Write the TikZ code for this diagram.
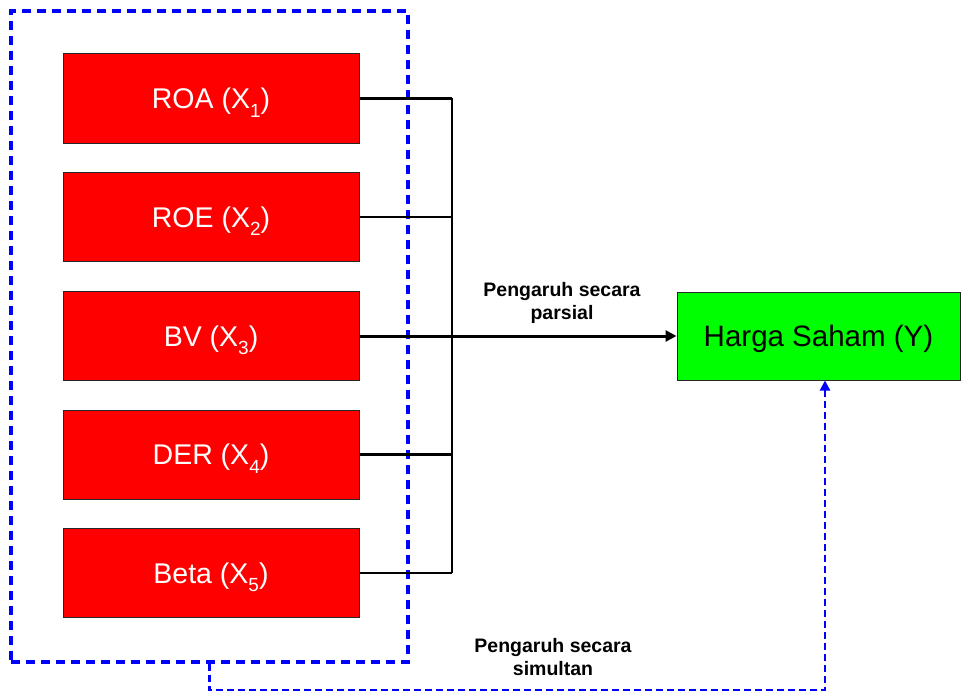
\documentclass[tikz,border=0pt]{standalone}
\usepackage{fontspec}
\setmainfont{Liberation Sans}
\usetikzlibrary{arrows.meta}
% subscript index set in a smaller size
\newcommand{\idx}[1]{\smash{\raisebox{-0.3em}{\fontsize{19}{19}\selectfont #1}}}
\begin{document}
\begin{tikzpicture}[x=1pt,y=-1pt,
  varbox/.style={draw=black!85, line width=1pt, fill=red, text=white,
    minimum width=296pt, minimum height=89pt, inner sep=0pt,
    text height=20.4pt, text depth=0pt,
    font=\fontsize{28.5}{34}\selectfont},
  targetbox/.style={draw=black!85, line width=1pt, fill=green,
    minimum width=283pt, minimum height=88pt, inner sep=0pt,
    text height=21.1pt, text depth=0pt,
    font=\fontsize{29.5}{34}\selectfont},
  groupbox/.style={draw=blue, line width=3.2pt, dash pattern=on 9pt off 6pt,
    minimum width=397pt, minimum height=651pt, inner sep=0pt},
  link/.style={draw=black, line width=2.6pt},
  partial/.style={draw=black, line width=3pt, -{Triangle[length=11pt,width=11pt]}},
  simult/.style={draw=blue, line width=2.2pt, dash pattern=on 7pt off 4pt,
    -{Triangle[length=10pt,width=10pt]}},
  caption/.style={font=\fontsize{19.5}{23}\selectfont\bfseries, align=center, inner sep=0pt}
]
\useasboundingbox (0,0) rectangle (962,693);

% dashed frame round the independent variables
\node[groupbox] (grp) at (209.5,336.5) {};

% independent variables
\node[varbox] (x1) at (211,98.5) {ROA (X\idx{1})};
\node[varbox] (x2) at (211,217) {ROE (X\idx{2})};
\node[varbox] (x3) at (211,336) {BV (X\idx{3})};
\node[varbox] (x4) at (211,454.5) {DER (X\idx{4})};
\node[varbox] (x5) at (211,573) {Beta (X\idx{5})};

% dependent variable
\node[targetbox] (y) at (818.5,336) {Harga Saham (Y)};

% collecting bus
\coordinate (bt) at (452,98.5);
\coordinate (bb) at (452,573);
\draw[link] (bt) -- (bb);
\foreach \n in {x1,x2,x4,x5}
  \draw[link] (\n.east) -- (\n.east -| bt);
\draw[partial] (x3.east) -- (y.west);

% simultaneous effect path
\coordinate (low) at (0,690);
\coordinate (tip) at ([xshift=6.5pt]y.south);
\draw[simult] (grp.south) -- (grp.south |- low) -| (tip);

% labels
\node[caption] (lp) at (562,303) {Pengaruh secara\\parsial};
\node[caption] (ls) at (553,657.5) {Pengaruh secara\\simultan};
\end{tikzpicture}
\end{document}
